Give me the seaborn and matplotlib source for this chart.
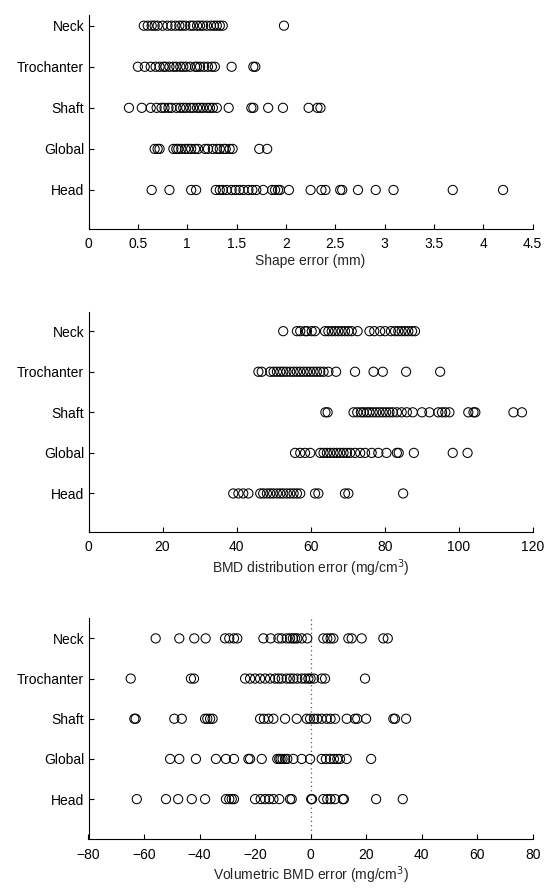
import numpy as np
import pandas as pd
import matplotlib
matplotlib.use("Agg")
import matplotlib.pyplot as plt
import seaborn as sns

regions = ["Neck", "Trochanter", "Shaft", "Global", "Head"]

# Panel 1: shape error (mm)
shape_neck = [0.56, 0.60, 0.64, 0.67, 0.70, 0.75, 0.80, 0.84, 0.88, 0.92, 0.95, 0.98,
              1.03, 1.06, 1.10, 1.13, 1.16, 1.20, 1.24, 1.27, 1.30, 1.33, 1.36, 1.98]
shape_troch = [0.50, 0.57, 0.63, 0.68, 0.72, 0.76, 0.78, 0.82, 0.86, 0.89, 0.93, 0.96,
               0.99, 1.03, 1.08, 1.10, 1.13, 1.17, 1.21, 1.25, 1.28, 1.45, 1.67, 1.69]
shape_shaft = [0.41, 0.54, 0.63, 0.69, 0.74, 0.77, 0.81, 0.84, 0.89, 0.93, 0.96, 0.99,
               1.03, 1.06, 1.10, 1.13, 1.16, 1.20, 1.23, 1.26, 1.30, 1.42, 1.65, 1.67,
               1.82, 1.97, 2.23, 2.32, 2.35]
shape_global = [0.67, 0.70, 0.72, 0.86, 0.89, 0.91, 0.94, 0.98, 1.01, 1.04, 1.08, 1.11,
                1.18, 1.21, 1.26, 1.30, 1.33, 1.37, 1.39, 1.43, 1.46, 1.73, 1.81]
shape_head = [0.64, 0.82, 1.04, 1.09, 1.29, 1.33, 1.36, 1.40, 1.45, 1.49, 1.53, 1.57,
              1.62, 1.66, 1.70, 1.77, 1.86, 1.89, 1.92, 1.94, 2.03, 2.25, 2.36, 2.40,
              2.55, 2.57, 2.73, 2.91, 3.09, 3.69, 4.20]

# Panel 2: BMD distribution error (mg/cm3)
bmd_neck = [52.6, 56.3, 57.2, 58.5, 59.0, 60.3, 61.2, 63.9, 64.8, 65.7, 66.6, 67.5, 68.4,
            69.3, 70.2, 71.1, 72.7, 75.9, 77.2, 78.8, 80.1, 81.7, 82.8, 83.7, 84.6,
            85.5, 86.4, 87.4, 88.2]
bmd_troch = [45.9, 46.8, 49.1, 50.0, 50.9, 51.8, 52.6, 53.5, 54.5, 55.4, 56.3, 57.2,
             58.1, 59.0, 59.9, 60.8, 61.7, 62.6, 63.5, 64.8, 66.9, 72.0, 77.0, 79.5,
             85.8, 95.0]
bmd_shaft = [64.0, 64.6, 71.6, 72.6, 73.6, 74.3, 75.2, 75.9, 76.8, 77.7, 78.6, 79.5,
             80.4, 81.3, 82.2, 83.3, 84.6, 86.0, 87.6, 90.1, 92.1, 94.5, 95.5, 96.4,
             97.5, 102.6, 104.0, 104.5, 114.8, 117.1]
bmd_global = [55.8, 57.2, 58.5, 59.9, 62.6, 63.5, 64.4, 65.3, 66.2, 67.1, 68.0, 68.9,
              69.8, 70.7, 72.0, 73.4, 74.7, 76.5, 78.3, 80.5, 83.3, 83.8, 87.9, 98.4,
              102.4]
bmd_head = [39.1, 40.5, 41.8, 43.2, 46.4, 47.2, 48.2, 49.1, 49.9, 50.9, 51.8, 52.6,
            53.6, 54.5, 55.4, 56.3, 57.2, 61.2, 62.1, 69.3, 70.2, 85.0]

# Panel 3: volumetric BMD error (mg/cm3)
vol_neck = [-55.8, -47.3, -41.9, -37.8, -30.8, -29.3, -27.6, -26.4, -17.0, -14.4, -11.6,
            -10.4, -8.6, -7.4, -6.4, -5.6, -4.8, -3.2, -1.2, 4.6, 6.0, 7.2, 8.2, 13.6,
            14.8, 18.4, 26.2, 27.8]
vol_troch = [-64.8, -43.1, -42.0, -23.6, -21.8, -20.0, -18.2, -16.4, -14.6, -12.8, -11.6,
             -10.4, -8.6, -7.4, -6.2, -4.8, -3.2, -2.0, -0.8, 0.0, 1.2, 4.0, 5.2, 19.6]
vol_shaft = [-63.5, -63.0, -49.1, -46.4, -38.0, -37.2, -36.2, -35.3, -18.2, -16.8, -15.2,
             -13.4, -9.2, -5.0, -1.4, -0.2, 1.2, 2.4, 4.0, 5.8, 7.2, 8.8, 13.0, 16.0,
             16.8, 20.0, 29.8, 30.4, 34.4]
vol_global = [-50.6, -47.3, -41.3, -34.1, -30.5, -27.6, -22.4, -21.8, -17.6, -12.0,
              -11.3, -10.8, -10.1, -9.2, -8.4, -6.2, -3.2, -0.2, 4.0, 5.5, 7.0, 8.4,
              9.6, 10.6, 13.0, 21.8]
vol_head = [-62.6, -52.1, -47.7, -42.8, -38.0, -30.5, -29.3, -28.4, -27.6, -20.0, -18.0,
            -16.4, -14.9, -13.4, -11.3, -7.4, -6.8, 0.2, 0.5, 4.6, 6.0, 7.2, 8.8, 11.6,
            12.0, 23.6, 33.2]

xlabels = ["Shape error (mm)", "BMD distribution error (mg/cm$^3$)",
           "Volumetric BMD error (mg/cm$^3$)"]
xticks = [np.arange(0, 4.51, 0.5), np.arange(0, 121, 20), np.arange(-80, 81, 20)]
xlims = [(0, 4.5), (0, 120), (-80, 80)]
xticklabels = [["0", "0.5", "1", "1.5", "2", "2.5", "3", "3.5", "4", "4.5"],
               [str(v) for v in range(0, 121, 20)],
               [str(v).replace("-", "\u2212") for v in range(-80, 81, 20)]]

panels = [
    [shape_neck, shape_troch, shape_shaft, shape_global, shape_head],
    [bmd_neck, bmd_troch, bmd_shaft, bmd_global, bmd_head],
    [vol_neck, vol_troch, vol_shaft, vol_global, vol_head],
]

sns.set_style("ticks")
plt.rcParams["font.family"] = ["Liberation Sans", "DejaVu Sans"]
plt.rcParams["axes.unicode_minus"] = True

fig = plt.figure(figsize=(5.44, 8.88), dpi=100)
W, H = 544.0, 888.0
# (top_px, bottom_px, ylim_bottom, ylim_top)
boxes = [(15, 229, 4.95, -0.26), (311.7, 532, 4.95, -0.48), (618.3, 839.3, 5.0, -0.5)]
left_px, right_px = 88.5, 532.7

for i, (vals, box) in enumerate(zip(panels, boxes)):
    top, bot, yb, yt = box
    ax = fig.add_axes([left_px / W, 1 - bot / H, (right_px - left_px) / W, (bot - top) / H])
    df = pd.DataFrame({
        "value": np.concatenate([np.asarray(v, float) for v in vals]),
        "region": np.concatenate([[r] * len(v) for r, v in zip(regions, vals)]),
    })
    sns.stripplot(data=df, x="value", y="region", order=regions, jitter=False,
                  orient="h", size=6.6, color="black", linewidth=0.75,
                  edgecolor="black", ax=ax, zorder=3)
    for c in ax.collections:
        c.set_facecolor("none")
        c.set_edgecolor("black")
        c.set_linewidth(0.75)
    if i == 2:
        ax.axvline(0, color="#555555", ls=(0, (1, 2.5)), lw=0.9, zorder=1)
    ax.set_xlim(*xlims[i])
    ax.set_ylim(yb, yt)
    ax.set_xticks(xticks[i])
    ax.set_xticklabels(xticklabels[i])
    ax.set_xlabel(xlabels[i], fontsize=10, labelpad=2)
    ax.set_ylabel("")
    ax.tick_params(axis="x", direction="in", length=3.5, width=0.8,
                   labelsize=10, colors="black", pad=6)
    ax.tick_params(axis="y", direction="in", length=3.5, width=0.8,
                   labelsize=10, colors="black", pad=3)
    for s in ["top", "right"]:
        ax.spines[s].set_visible(False)
    for s in ["left", "bottom"]:
        ax.spines[s].set_color("black")
        ax.spines[s].set_linewidth(0.8)
    ax.grid(False)
    ax.set_facecolor("white")

fig.savefig("out.png", dpi=100, facecolor="white")
